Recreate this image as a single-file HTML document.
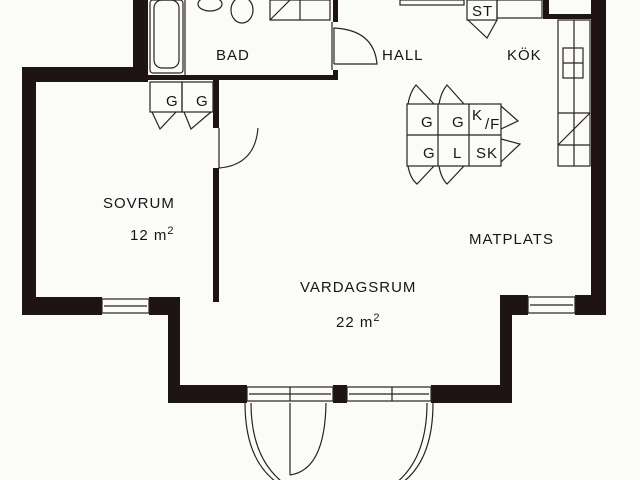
<!DOCTYPE html>
<html><head><style>
html,body{margin:0;padding:0;background:#fbfbfa;}
svg{display:block;}
text{font-family:"Liberation Sans",sans-serif;font-size:15px;fill:#1a1414;letter-spacing:1px;}
</style></head><body>
<svg width="640" height="480" viewBox="0 0 640 480" xmlns="http://www.w3.org/2000/svg">
<rect width="640" height="480" fill="#fbfbfa"/>
<g fill="#1e1414">
<!-- top-left wall -->
<rect x="22" y="67" width="126" height="15"/>
<rect x="133" y="0" width="15" height="82"/>
<rect x="148" y="75" width="190" height="5"/>
<!-- left outer -->
<rect x="22" y="67" width="14" height="248"/>
<!-- sovrum bottom -->
<rect x="22" y="297" width="80" height="18"/>
<rect x="149" y="297" width="31" height="18"/>
<!-- sovrum right wall -->
<rect x="213" y="80" width="6" height="48"/>
<rect x="213" y="168" width="6" height="134"/>
<!-- bay -->
<rect x="168" y="297" width="12" height="106"/>
<rect x="168" y="385" width="79" height="18"/>
<rect x="333" y="385" width="14" height="18"/>
<rect x="431" y="385" width="81" height="18"/>
<rect x="500" y="295" width="12" height="108"/>
<rect x="500" y="295" width="28" height="20"/>
<rect x="575" y="295" width="31" height="20"/>
<!-- right wall -->
<rect x="591" y="0" width="15" height="315"/>
<rect x="543" y="0" width="6" height="18"/>
<rect x="543" y="14" width="50" height="5"/>
<!-- bad right wall -->
<rect x="333" y="0" width="5" height="22"/>
<rect x="333" y="70" width="5" height="10"/>
</g>
<g fill="none" stroke="#2a2222" stroke-width="1.2">
<!-- windows -->
<rect x="102" y="299" width="47" height="14"/><line x1="104" y1="306" x2="147" y2="306"/>
<rect x="528" y="297" width="47" height="16"/><line x1="530" y1="305" x2="573" y2="305"/>
<rect x="247" y="387" width="86" height="14"/><line x1="249" y1="394" x2="331" y2="394"/><line x1="290" y1="387" x2="290" y2="401"/>
<rect x="347" y="387" width="84" height="14"/><line x1="349" y1="394" x2="429" y2="394"/><line x1="392" y1="387" x2="392" y2="401"/>
<!-- bay arc -->
<path d="M245 403 Q245 470 290 490 M251 403 Q251 466 294 490"/>
<path d="M433 403 Q433 470 390 490 M427 403 Q427 466 386 490"/>
<path d="M290 403 L290 475 M290 475 Q325 470 326 403"/>
<!-- bathtub -->
<rect x="150" y="0" width="33" height="73" rx="3"/>
<rect x="154" y="0" width="25" height="68" rx="8"/>
<line x1="185" y1="0" x2="185" y2="75"/>
<ellipse cx="210" cy="4" rx="12" ry="7"/>
<ellipse cx="242" cy="10" rx="11" ry="13"/>
<rect x="270" y="0" width="60" height="20"/><line x1="270" y1="20" x2="290" y2="0"/><line x1="300" y1="0" x2="300" y2="20"/>
<!-- bad door -->
<path d="M334 64 L334 28 Q374 30 377 64 L334 64"/><line x1="332" y1="22" x2="332" y2="70"/>
<!-- closets G G -->
<rect x="150" y="82" width="32" height="30"/><rect x="182" y="82" width="31" height="30"/>
<path d="M152 112 L160 129 L176 112 M184 112 L191 129 L211 112"/>
<!-- sovrum door -->
<path d="M219 128 L219 168 Q255 165 258 128"/>
<!-- top cabinets -->
<rect x="400" y="0" width="64" height="5"/>
<rect x="467" y="0" width="30" height="20"/>
<path d="M468 20 L487 38 L497 20"/>
<rect x="497" y="0" width="45" height="18"/>
<!-- kitchen counter -->
<rect x="558" y="20" width="32" height="146"/><line x1="574" y1="20" x2="574" y2="166"/>
<rect x="563" y="48" width="20" height="30"/><line x1="563" y1="63" x2="583" y2="63"/>
<line x1="558" y1="113" x2="590" y2="113"/><line x1="558" y1="145" x2="590" y2="145"/>
<line x1="558" y1="145" x2="590" y2="113"/>
<!-- island cabinets -->
<rect x="407" y="104" width="94" height="62"/>
<line x1="407" y1="135" x2="501" y2="135"/><line x1="438" y1="104" x2="438" y2="166"/><line x1="469" y1="104" x2="469" y2="166"/>
<path d="M408 104 Q410 92 416 85 L434 104 M439 104 Q441 92 447 85 L464 104"/>
<path d="M408 166 Q410 178 417 184 L434 166 M439 166 Q441 178 447 184 L464 166"/>
<path d="M501 106 L518 121 L501 129 M501 139 L520 144 L501 162"/>
</g>
<text x="216" y="60">BAD</text>
<text x="382" y="60">HALL</text>
<text x="507" y="60">KÖK</text>
<text x="472" y="16">ST</text>
<text x="103" y="208">SOVRUM</text>
<text x="130" y="240">12 m<tspan font-size="11" dy="-6">2</tspan></text>
<text x="469" y="244">MATPLATS</text>
<text x="300" y="292">VARDAGSRUM</text>
<text x="336" y="327">22 m<tspan font-size="11" dy="-6">2</tspan></text>
<g font-size="15">
<text x="421" y="127">G</text><text x="452" y="127">G</text><text x="472" y="120">K</text><text x="485" y="129" font-size="12">/F</text>
<text x="423" y="158">G</text><text x="453" y="158">L</text><text x="476" y="158">SK</text>
<text x="166" y="106">G</text><text x="196" y="106">G</text>
</g>
</svg>
</body></html>
